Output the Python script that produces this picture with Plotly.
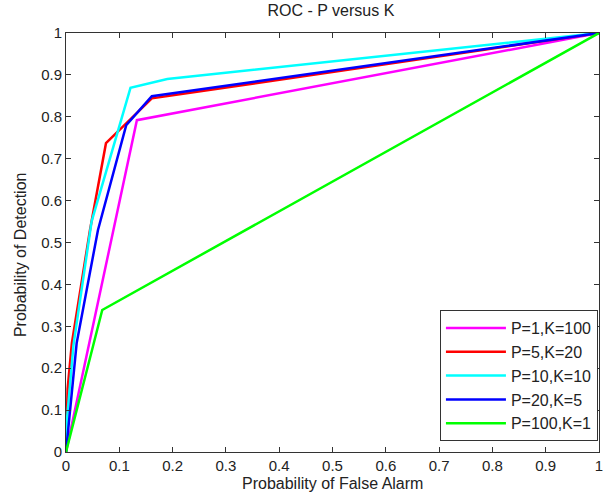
import plotly.graph_objects as go

# ---- data ----
names = ["P=1,K=100", "P=5,K=20", "P=10,K=10", "P=20,K=5", "P=100,K=1"]
colors = ["#FF00FF", "#FF0000", "#00FFFF", "#0000FF", "#00FF00"]

pfa_p1 = [0, 0.133, 1]
pd_p1 = [0, 0.792, 1]

pfa_p5 = [0, 0.003, 0.011, 0.045, 0.075, 0.161, 1]
pd_p5 = [0, 0.15, 0.26, 0.53, 0.737, 0.844, 1]

pfa_p10 = [0, 0.002, 0.014, 0.048, 0.121, 0.19, 1]
pd_p10 = [0, 0.08, 0.255, 0.55, 0.869, 0.89, 1]

pfa_p20 = [0, 0.02, 0.06, 0.113, 0.161, 1]
pd_p20 = [0, 0.26, 0.53, 0.78, 0.849, 1]

pfa_p100 = [0, 0.068, 1]
pd_p100 = [0, 0.339, 1]

xs = [pfa_p1, pfa_p5, pfa_p10, pfa_p20, pfa_p100]
ys = [pd_p1, pd_p5, pd_p10, pd_p20, pd_p100]

tick_vals = [0, 0.1, 0.2, 0.3, 0.4, 0.5, 0.6, 0.7, 0.8, 0.9, 1]
tick_text = ["0", "0.1", "0.2", "0.3", "0.4", "0.5", "0.6", "0.7", "0.8", "0.9", "1"]

fig = go.Figure()
for x, y, n, c in zip(xs, ys, names, colors):
    fig.add_trace(go.Scatter(x=x, y=y, mode="lines", name=n,
                             line=dict(color=c, width=2.5)))

font_family = "Liberation Sans, Arial, sans-serif"
txt_color = "#222222"
axis_common = dict(
    range=[0, 1], tickvals=tick_vals, ticktext=tick_text,
    ticks="inside", ticklen=5, tickcolor="#333333", tickwidth=1,
    showline=True, linecolor="#333333", linewidth=1, mirror="ticks",
    showgrid=False, zeroline=False, automargin=False,
    tickfont=dict(family=font_family, size=15, color=txt_color),
)

fig.update_layout(
    width=605, height=497,
    margin=dict(l=66, r=6, t=33, b=45),
    paper_bgcolor="white", plot_bgcolor="white",
    title=dict(text="ROC - P versus K", x=0.547, xanchor="center", y=0.99, yanchor="top",
               font=dict(family=font_family, size=16, color=txt_color)),
    xaxis=dict(**axis_common),
    yaxis=dict(**axis_common),
    legend=dict(x=0.998, y=0.026, xanchor="right", yanchor="bottom",
                bgcolor="white", bordercolor="#333333", borderwidth=1,
                font=dict(family=font_family, size=16, color=txt_color),
                itemwidth=60, tracegroupgap=0),
    showlegend=True,
    annotations=[
        dict(text="Probability of False Alarm", xref="paper", yref="paper",
             x=0.5, y=-0.074, xanchor="center", yanchor="middle", showarrow=False,
             font=dict(family=font_family, size=16, color=txt_color)),
        dict(text="Probability of Detection", xref="paper", yref="paper",
             x=-0.0863, y=0.47, xanchor="center", yanchor="middle", showarrow=False,
             textangle=-90,
             font=dict(family=font_family, size=16, color=txt_color)),
    ],
)

fig.write_html("out.html",
               config={"displayModeBar": False},
               post_script="document.body.style.margin='0';document.body.style.overflow='hidden';")
